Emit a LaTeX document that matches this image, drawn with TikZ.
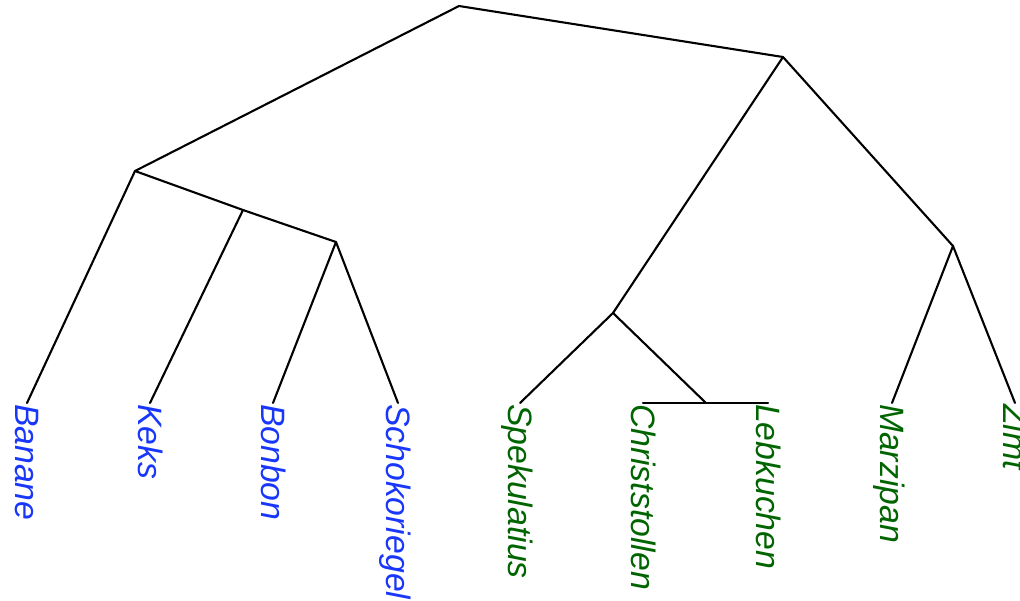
\documentclass[tikz,border=0pt]{standalone}
\usepackage{fontspec}
\setmainfont{Liberation Sans}
\usetikzlibrary{calc}
\definecolor{leafblue}{RGB}{25,55,250}
\definecolor{leafgreen}{RGB}{0,100,0}
\begin{document}
\begin{tikzpicture}[x=1pt,y=-1pt,
  edge/.style={line width=2.1pt,line cap=round,line join=round},
  leaflab/.style={inner sep=0pt,outer sep=0pt,anchor=base west,rotate=-90,
    font=\fontsize{33.8}{40}\selectfont\itshape},
  bluelab/.style={leaflab,text=leafblue},
  greenlab/.style={leaflab,text=leafgreen}]
\useasboundingbox (0,0) rectangle (1020,600);
\clip (0,0) rectangle (1020,600);
% internal nodes
\coordinate (root) at (459,6);
\coordinate (A) at (135,171);
\coordinate (D) at (243,210);
\coordinate (C) at (336,242);
\coordinate (B) at (783,57);
\coordinate (E) at (613,313);
\coordinate (G) at (706,403);
\coordinate (F) at (953,246);
% leaves
\coordinate (l1) at (27,403);
\coordinate (l2) at (150,403);
\coordinate (l3) at (273,403);
\coordinate (l4) at (398,403);
\coordinate (l5) at (520,403);
\coordinate (l6) at (643,403);
\coordinate (l7) at (768,403);
\coordinate (l8) at (892,403);
\coordinate (l9) at (1015,403);
% edges
\draw[edge] (A) -- (root) -- (B);
\draw[edge] (l1) -- (A) -- (D) -- (C);
\draw[edge] (D) -- (l2);
\draw[edge] (l3) -- (C) -- (l4);
\draw[edge] (E) -- (B) -- (F);
\draw[edge] (l5) -- (E) -- (G);
\draw[edge] (l6) -- (G) -- (l7);
\draw[edge] (l8) -- (F) -- (l9);
% labels
\node[bluelab] (t1) at ($(l1)+(-12,1)$) {Banane};
\node[bluelab] (t2) at ($(l2)+(-12,1)$) {Keks};
\node[bluelab] (t3) at ($(l3)+(-12,1)$) {Bonbon};
\node[bluelab] (t4) at ($(l4)+(-12,1)$) {Schokoriegel};
\node[greenlab] (t5) at ($(l5)+(-12,1)$) {Spekulatius};
\node[greenlab] (t6) at ($(l6)+(-12,1)$) {Christstollen};
\node[greenlab] (t7) at ($(l7)+(-12,1)$) {Lebkuchen};
\node[greenlab] (t8) at ($(l8)+(-12,1)$) {Marzipan};
\node[greenlab] (t9) at ($(l9)+(-12,1)$) {Zimt};
\end{tikzpicture}
\end{document}
